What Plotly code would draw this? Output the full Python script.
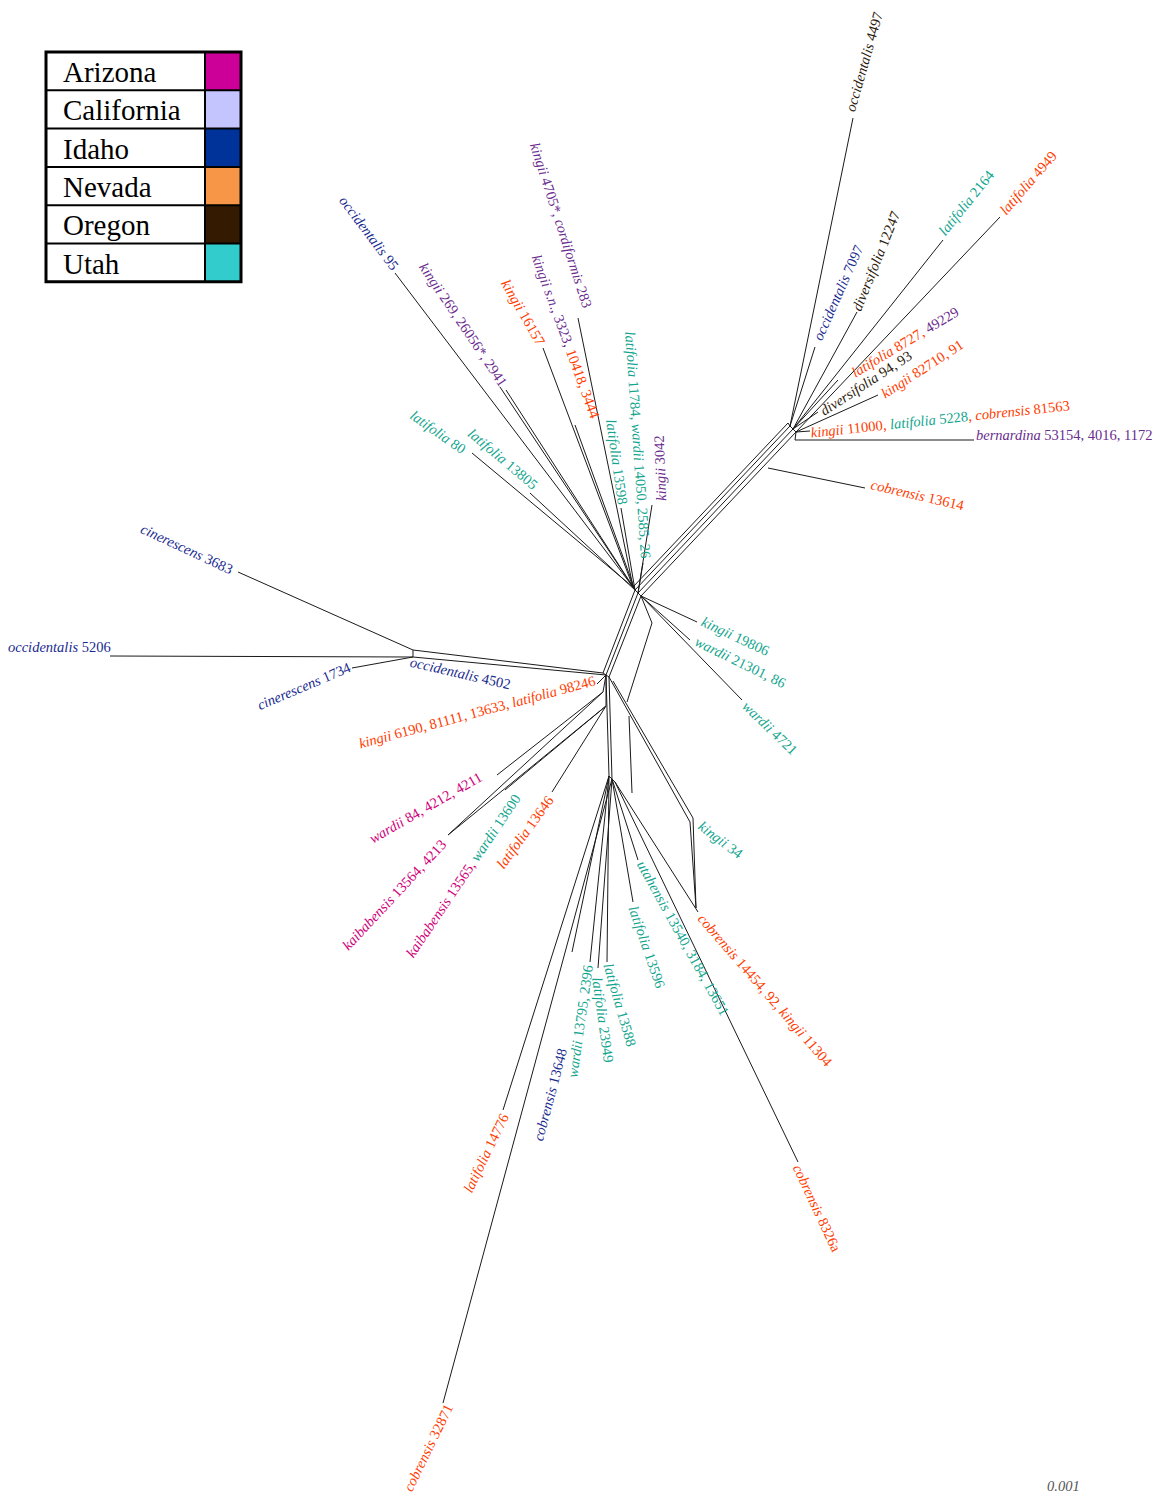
import re
import plotly.graph_objects as go

# ---------------- legend (state -> colour) ----------------
states = ["Arizona", "California", "Idaho", "Nevada", "Oregon", "Utah"]
swatch_colors = ["#CC0099", "#C4C4FF", "#003399", "#F79646", "#331A00", "#33CCCC"]
# colours used for the taxon labels of each state
label_colors = {"Arizona": "#D0007A", "California": "#6A2C8E", "Idaho": "#1A2B8F",
                "Nevada": "#FF3C00", "Oregon": "#2B1A0C", "Utah": "#12A58E"}

# ---------------- network nodes (pixel layout) ----------------
node_name = ["A0", "A1", "A2", "A3", "B0", "B1", "B2", "B3", "C0", "C1", "C2", "C3", "C4", "C5",
             "L0", "L1", "D0", "D1", "D2", "K0", "K1", "K2", "E0", "E1", "E2", "E3",
             "bern_in", "cob13614_in",
             "occ4497", "occ7097", "div12247", "lat2164", "lat4949", "lat8727", "div9493",
             "k82710", "k11000", "bern", "cob13614",
             "occ95", "k269", "k269b", "k16157", "k4705", "ksn", "lat11784", "lat13598", "k3042",
             "lat80", "lat13805", "k19806", "w21301", "w4721",
             "occ5206", "cin3683", "cin1734", "k6190",
             "w84", "kai13564", "kai13565", "lat13646",
             "cob14454", "cob8326", "utah", "lat13596", "lat13588", "lat23949", "w13795",
             "cob13648", "lat14776", "cob32871"]
node_x = [633, 635, 638, 641, 788, 790, 793, 796, 603, 606, 609, 603, 606, 613,
          413, 413, 609, 612, 615, 690, 693, 696, 652, 627, 629, 632,
          795, 768,
          853, 815, 857, 943, 1000, 838, 818,
          878, 810, 974, 865,
          395, 500, 506, 543, 578, 575, 643, 621, 652,
          472, 530, 697, 690, 742,
          110, 238, 352, 597,
          497, 448, 505, 552,
          698, 798, 638, 633, 607, 598, 590,
          572, 503, 443]
node_y = [587, 590, 593, 596, 423, 426, 429, 432, 673, 675, 677, 692, 706, 681,
          650, 657, 776, 779, 782, 822, 818, 908, 623, 702, 716, 793,
          440, 468,
          118, 347, 312, 240, 217, 380, 412,
          395, 431, 440, 488,
          273, 387, 390, 348, 318, 425, 563, 508, 505,
          453, 493, 622, 640, 700,
          656, 572, 668, 684,
          775, 835, 790, 792,
          912, 1162, 860, 902, 962, 968, 962,
          952, 1110, 1403]

edge_from = ["A0", "A1", "A2", "A3", "A1", "A2", "A3", "C0", "C1",
             "A0", "A1", "A2", "B0", "B1", "B2", "C0", "C1", "L0", "D0", "D1",
             "C1", "C2", "C2", "C5", "K0", "K1", "E0", "E2", "A3",
             "occ4497", "occ7097", "div12247", "lat2164", "lat4949", "lat8727", "div9493",
             "k82710", "k11000", "bern", "bern_in", "cob13614",
             "occ95", "k269", "k269b", "k16157", "k4705", "ksn", "lat11784", "lat13598", "k3042",
             "lat80", "lat13805", "k19806", "w21301", "w4721",
             "occ5206", "cin3683", "cin1734", "k6190",
             "w84", "kai13564", "kai13564", "kai13565", "lat13646",
             "cob14454", "cob8326", "utah", "lat13596", "lat13588", "lat23949", "w13795",
             "cob13648", "lat14776", "cob32871", "C3", "C4"]
edge_to = ["B0", "B1", "B2", "B3", "C0", "C1", "C2", "L0", "L1",
           "A1", "A2", "A3", "B1", "B2", "B3", "C1", "C2", "L1", "D1", "D2",
           "D0", "D1", "K0", "K1", "K2", "K2", "E1", "E3", "E0",
           "B1", "B1", "B2", "B2", "B3", "B2", "B2",
           "B3", "B3", "bern_in", "B3", "cob13614_in",
           "A0", "A0", "A1", "A0", "A0", "A1", "A2", "A1", "A2",
           "A0", "A1", "A3", "A3", "A3",
           "L1", "L0", "L1", "C1",
           "C3", "C3", "C4", "C4", "C4",
           "D2", "D2", "D1", "D1", "D0", "D1", "D0",
           "D0", "D0", "D1", "C1", "C1"]

# ---------------- taxon labels ----------------
label_parts = [
    [("occidentalis 4497", "Oregon")],
    [("latifolia 2164", "Utah")],
    [("latifolia 4949", "Nevada")],
    [("occidentalis 7097", "Idaho")],
    [("diversifolia 12247", "Oregon")],
    [("latifolia 8727, ", "Nevada"), ("49229", "California")],
    [("diversifolia 94, 93", "Oregon")],
    [("kingii 82710, 91", "Nevada")],
    [("kingii 11000, ", "Nevada"), ("latifolia 5228", "Utah"), (", cobrensis 81563", "Nevada")],
    [("bernardina 53154, 4016, 1172", "California")],
    [("cobrensis 13614", "Nevada")],
    [("occidentalis 95", "Idaho")],
    [("kingii 269, 26056*, 2941", "California")],
    [("kingii 4705*, cordiformis 283", "California")],
    [("kingii s.n., 3323, ", "California"), ("10418, 3444", "Nevada")],
    [("kingii 16157", "Nevada")],
    [("latifolia 11784, wardii 14050, 2585, 26", "Utah")],
    [("latifolia 13598", "Utah")],
    [("kingii 3042", "California")],
    [("latifolia 80", "Utah")],
    [("latifolia 13805", "Utah")],
    [("cinerescens 3683", "Idaho")],
    [("occidentalis 5206", "Idaho")],
    [("cinerescens 1734", "Idaho")],
    [("occidentalis 4502", "Idaho")],
    [("kingii 6190, 81111, 13633, latifolia 98246", "Nevada")],
    [("kingii 19806", "Utah")],
    [("wardii 21301, 86", "Utah")],
    [("wardii 4721", "Utah")],
    [("kingii 34", "Utah")],
    [("wardii 84, 4212, 4211", "Arizona")],
    [("kaibabensis 13564, 4213", "Arizona")],
    [("kaibabensis 13565, ", "Arizona"), ("wardii 13600", "Utah")],
    [("latifolia 13646", "Nevada")],
    [("utahensis 13540, 3184, 13651", "Utah")],
    [("latifolia 13596", "Utah")],
    [("latifolia 13588", "Utah")],
    [("latifolia 23949", "Utah")],
    [("wardii 13795, 2396", "Utah")],
    [("cobrensis 13648", "Idaho")],
    [("latifolia 14776", "Nevada")],
    [("cobrensis 32871", "Nevada")],
    [("cobrensis 14454, 92, kingii 11304", "Nevada")],
    [("cobrensis 8326a", "Nevada")],
]
label_cx = [864, 966, 1028, 838, 876, 905, 866, 922, 940, 1064, 918,
            369, 463, 561, 566, 523, 638, 617, 660, 438, 503,
            187, 59, 304, 460, 477,
            735, 740, 770, 721,
            425, 394, 463, 525,
            683, 647, 620, 603, 580, 550, 486, 428, 765, 817]
label_cy = [62, 203, 183, 293, 261, 342, 383, 369, 419, 435, 495,
            233, 324, 225, 337, 312, 445, 462, 468, 432, 459,
            549, 647, 686, 673, 712,
            636, 662, 728, 840,
            808, 895, 876, 832,
            938, 947, 1005, 1020, 1022, 1095, 1153, 1448, 990, 1208]
label_angle = [-74, -51, -49, -66, -68, -31, -33, -33, -6, 0, 13,
               53, 56, 72, 70, 60, 86, 82, -92, 35, 40,
               25, 0, -23, 13, -15,
               25, 26, 44, 37,
               -30, -47, -56, -54,
               61, 71, 74, 82, -82, -75, -64, -64, 49, 65]

scale_text = "0.001"

# ---------------- build figure ----------------
# the page body adds an 8px margin, so the plot is sized to the visible window
PAGE_W, PAGE_H, BODY_M = 1165, 1501, 8

pos = {n: (x, y) for n, x, y in zip(node_name, node_x, node_y)}
xs, ys = [], []
for a, b in zip(edge_from, edge_to):
    xs += [pos[a][0], pos[b][0], None]
    ys += [pos[a][1], pos[b][1], None]

fig = go.Figure()
fig.add_trace(go.Scatter(x=xs, y=ys, mode="lines", line=dict(color="#1a1a1a", width=1),
                         hoverinfo="skip", showlegend=False))


def fmt(parts):
    out = []
    for txt, st in parts:
        t = re.sub(r"\b([a-z]+)\b", r"<i>\1</i>", txt)
        out.append('<span style="color:%s">%s</span>' % (label_colors[st], t))
    return "".join(out)


LABEL_FONT = "Liberation Serif, Times New Roman, serif"
for parts, cx, cy, ang in zip(label_parts, label_cx, label_cy, label_angle):
    fig.add_annotation(x=cx, y=cy, xref="x", yref="y", text=fmt(parts), showarrow=False,
                       textangle=ang, xanchor="center", yanchor="middle",
                       font=dict(family=LABEL_FONT, size=14.5))

fig.add_annotation(x=1063, y=1486, xref="x", yref="y", text="<i>%s</i>" % scale_text,
                   showarrow=False, font=dict(family=LABEL_FONT, size=14.5, color="#555555"))

# legend table
leg_x0, leg_x1, leg_xdiv = 46, 241, 205
leg_top, row_h = 52, 38.3
for i, (st, col) in enumerate(zip(states, swatch_colors)):
    y0 = leg_top + i * row_h
    y1 = y0 + row_h
    fig.add_shape(type="rect", x0=leg_xdiv, x1=leg_x1, y0=y0, y1=y1, xref="x", yref="y",
                  fillcolor=col, line=dict(width=0), layer="below")
    if i > 0:
        fig.add_shape(type="line", x0=leg_x0, x1=leg_x1, y0=y0, y1=y0, xref="x", yref="y",
                      line=dict(color="black", width=2))
    fig.add_annotation(x=61, y=y0 + row_h / 2 + 1, xref="x", yref="y", text=st, showarrow=False,
                       xanchor="left", yanchor="middle",
                       font=dict(family="Liberation Serif, Times New Roman, serif", size=29,
                                 color="black"))
fig.add_shape(type="line", x0=leg_xdiv, x1=leg_xdiv, y0=leg_top, y1=leg_top + 6 * row_h,
              xref="x", yref="y", line=dict(color="black", width=2))
fig.add_shape(type="rect", x0=leg_x0, x1=leg_x1, y0=leg_top, y1=leg_top + 6 * row_h,
              xref="x", yref="y", line=dict(color="black", width=3))

fig.update_layout(width=PAGE_W - 2 * BODY_M, height=PAGE_H - 2 * BODY_M,
                  margin=dict(l=0, r=0, t=0, b=0),
                  paper_bgcolor="white", plot_bgcolor="white", showlegend=False)
fig.update_xaxes(range=[BODY_M, PAGE_W - BODY_M], visible=False, fixedrange=True)
fig.update_yaxes(range=[PAGE_H - BODY_M, BODY_M], visible=False, fixedrange=True)

fig.write_html("out.html")
